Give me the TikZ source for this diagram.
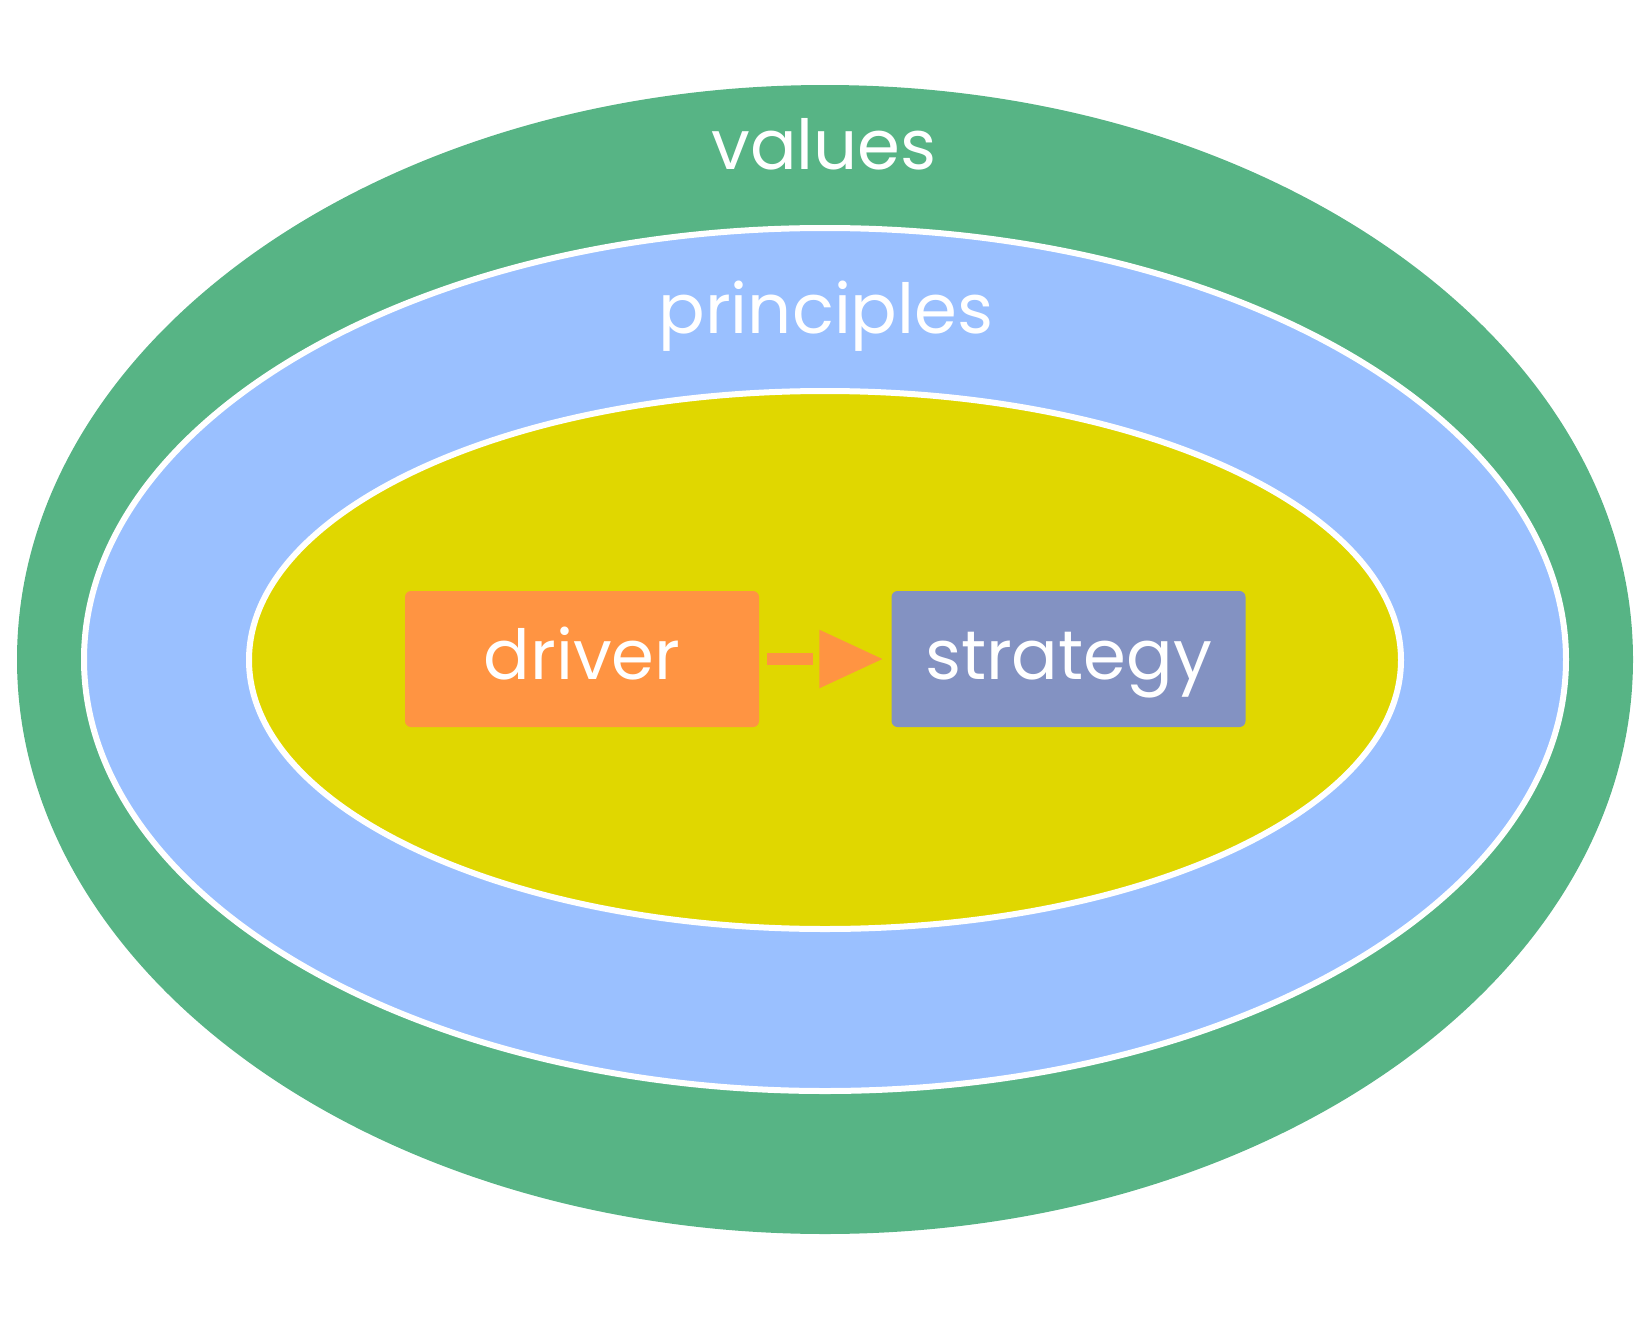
\documentclass[tikz,border=0pt]{standalone}
\usepackage{fontspec}
\setmainfont{Poppins}
\usetikzlibrary{arrows.meta}
\definecolor{valgreen}{RGB}{87,180,133}
\definecolor{prinblue}{RGB}{154,192,255}
\definecolor{coreyellow}{RGB}{224,215,0}
\definecolor{drvorange}{RGB}{255,148,66}
\definecolor{strpurple}{RGB}{131,146,194}
\tikzset{
  ring/.style={draw=white, line width=6pt},
  boxnode/.style={rounded corners=6pt, minimum width=354pt, minimum height=136pt,
    inner sep=0pt, text=white, font=\fontsize{69}{80}\selectfont,
    text height=60pt, text depth=20pt},
  bigtext/.style={text=white, font=\fontsize{69}{80}\selectfont, anchor=base, inner sep=0pt},
}
\begin{document}
\begin{tikzpicture}[x=1pt,y=-1pt]
\useasboundingbox (0,0) rectangle (1650,1320);
\fill[valgreen] (825,659.5) ellipse [x radius=808, y radius=574.5];
\fill[prinblue] (825,659.5) ellipse [x radius=741, y radius=431.5];
\draw[ring] (825,659.5) ellipse [x radius=741, y radius=431.5];
\fill[coreyellow] (825,660) ellipse [x radius=576, y radius=269];
\draw[ring] (825,660) ellipse [x radius=576, y radius=269];
\node[bigtext] (values) at (824,169) {values};
\node[bigtext] (principles) at (826,333) {principles};
\node[boxnode, fill=drvorange] (driver) at (582,659) {driver};
\node[boxnode, fill=strpurple] (strategy) at (1068.5,659) {strategy};
\draw[drvorange, line width=12pt, dash pattern=on 46pt off 30pt,
  shorten <=8pt, shorten >=8pt,
  -{Triangle[length=64pt,width=55pt]}] (driver.east) -- (strategy.west);
\end{tikzpicture}
\end{document}
